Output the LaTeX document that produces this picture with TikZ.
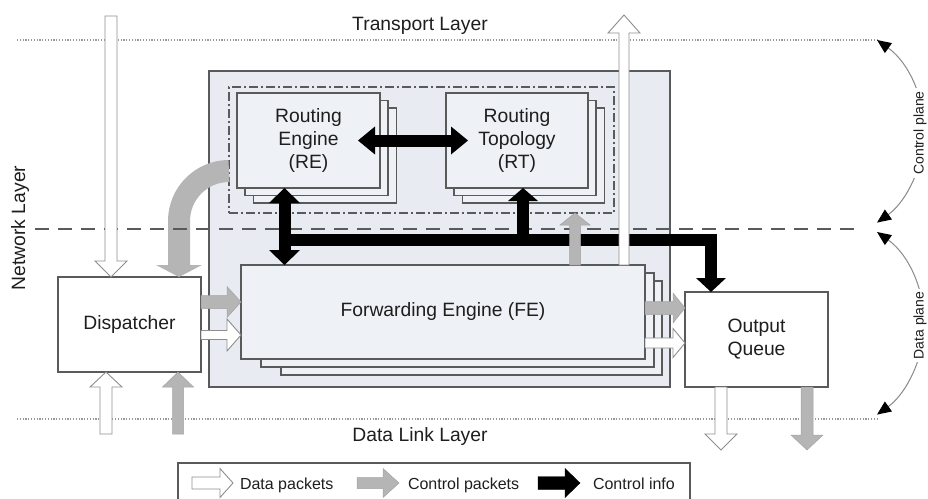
\documentclass[tikz,border=0pt]{standalone}
\usepackage{fontspec}
\setmainfont{Liberation Sans}
\usetikzlibrary{calc,arrows.meta}

\definecolor{panel}{HTML}{E8EBF1}
\definecolor{boxfill}{HTML}{EEF1F5}
\definecolor{edge}{HTML}{5A5A5A}
\definecolor{pktgray}{HTML}{B5B5B5}
\definecolor{outline}{HTML}{8E8E8E}
\definecolor{ink}{HTML}{1E1E1E}
\definecolor{guide}{HTML}{9A9A9A}
\definecolor{bend}{HTML}{8A8A8A}

% block arrow: #1 style, #2 tail, #3 tip, #4 shaft half-width, #5 head half-width, #6 head length
\newcommand\blockarrow[6]{%
  \coordinate (ba-s) at (#2);
  \coordinate (ba-t) at (#3);
  \coordinate (ba-c) at ($(ba-t)!#6!(ba-s)$);
  \draw[#1] ($(ba-s)!#4!90:(ba-t)$) -- ($(ba-c)!#4!90:(ba-t)$) -- ($(ba-c)!#5!90:(ba-t)$)
    -- (ba-t) -- ($(ba-c)!#5!-90:(ba-t)$) -- ($(ba-c)!#4!-90:(ba-t)$) -- ($(ba-s)!#4!-90:(ba-t)$) -- cycle;
}
% filled triangular head: #1 style, #2 point behind the tip, #3 tip, #4 half-width, #5 length
\newcommand\headtri[5]{%
  \coordinate (ht-t) at (#3);
  \coordinate (ht-c) at ($(ht-t)!#5!(#2)$);
  \fill[#1] ($(ht-c)!#4!90:(ht-t)$) -- (ht-t) -- ($(ht-c)!#4!-90:(ht-t)$) -- cycle;
}

\begin{document}
\begin{tikzpicture}[x=1pt,y=-1pt,
  every node/.style={inner sep=0pt, outer sep=0pt, text=ink},
  lbl/.style={font=\fontsize{19.3}{23}\selectfont, align=center},
  unitbox/.style={draw=edge, line width=1.3pt},
  datapkt/.style={fill=white, draw=outline, line width=0.9pt},
  ctrlpkt/.style={fill=pktgray, draw=pktgray!90!black, line width=0.5pt},
  infoline/.style={line width=12pt, draw=black},
  guideline/.style={draw=guide, line width=1.2pt, dash pattern=on 1.2pt off 1.6pt},
  layerline/.style={draw=edge, line width=1.4pt, dash pattern=on 14pt off 9pt},
  sidelbl/.style={font=\fontsize{14}{16}\selectfont, rotate=90, anchor=base, fill=white, inner xsep=3pt},
  planearc/.style={draw=bend, line width=1pt,
    {Triangle[length=14pt,width=12pt,color=black]}-{Triangle[length=14pt,width=12pt,color=black]}},
]
\useasboundingbox (0,0) rectangle (928,498);

% layer boundaries
\draw[guideline] (17,40) -- (877,40);
\draw[guideline] (17,419) -- (877,419);

% processing element
\draw[draw=edge, fill=panel, line width=1.2pt] (209,71) rectangle (670,387);
\node[draw=edge, line width=1.2pt, dash pattern=on 9pt off 3pt on 2pt off 3pt,
      minimum width=385pt, minimum height=126pt] (dd) at (421.5,150) {};

% routing engine and routing topology stacks
\foreach \dx/\dy in {16.5/15,8/7.5} {
  \draw[unitbox, fill=boxfill] (237+\dx,93+\dy) rectangle ++(143,95);
  \draw[unitbox, fill=boxfill] (446+\dx,93+\dy) rectangle ++(142,95);
}
\node[unitbox, fill=boxfill, minimum width=143pt, minimum height=95pt, lbl] (re) at (308.5,140.5) {Routing\\Engine\\(RE)};
\node[unitbox, fill=boxfill, minimum width=142pt, minimum height=95pt, lbl] (rt) at (517,140.5) {Routing\\Topology\\(RT)};

% forwarding engine stack
\draw[unitbox, fill=boxfill] (281,281) rectangle (662,375);
\draw[unitbox, fill=boxfill] (261,273) rectangle (654,367);
\node[unitbox, fill=boxfill, minimum width=404pt, minimum height=94pt, lbl] (fe) at (443,312) {Forwarding Engine (FE)};

% dispatcher and output queue
\node[unitbox, fill=white, minimum width=143pt, minimum height=95pt, lbl] (disp) at (129.5,324.5) {Dispatcher};
\node[unitbox, fill=white, minimum width=143pt, minimum height=95pt, lbl] (oq) at (756.5,339.5) {Output\\Queue};

% anchor rows and columns for the connectors
\coordinate (inTop) at (111,16);
\coordinate (inBotD) at (106,434);
\coordinate (inBotC) at (178,434);
\coordinate (curveY) at (0,171);
\coordinate (curveX) at (179,0);
\coordinate (rowC) at (0,302);
\coordinate (rowD) at (0,335);
\coordinate (rowC2) at (0,308);
\coordinate (rowD2) at (0,343);
\coordinate (outTop) at (624,15);
\coordinate (colC) at (575,0);
\coordinate (outD) at (721,450);
\coordinate (outC) at (807,450);
\coordinate (busL) at (284.5,240);
\coordinate (busR) at (711,240);
\coordinate (busT) at (523,240);

% control packets handed from the routing engine to the dispatcher
\draw[pktgray, line width=22pt] (dd.west |- curveY) .. controls (201.4,171) and (179,193.4) .. (179,221) -- (179,266);
\headtri{pktgray}{179,250}{disp.north -| curveX}{23pt}{12pt}

% network / transport boundary
\draw[layerline] (35,229) -- (860,229);

% control info
\draw[infoline] ($(re.east)+(-5,0)$) -- ($(rt.west)+(5,0)$);
\headtri{black}{rt.west}{$(re.east)+(-22,0)$}{14pt}{17pt}
\headtri{black}{re.east}{$(rt.west)+(22,0)$}{14pt}{17pt}
\draw[infoline] ($(re.south -| busL)+(0,14)$) -- ($(fe.north -| busL)+(0,-14)$);
\headtri{black}{busL}{re.south -| busL}{15.5pt}{15pt}
\headtri{black}{busL}{fe.north -| busL}{15.5pt}{15pt}
\draw[infoline, line join=miter] (busL) -- (busR) -- ($(oq.north -| busR)+(0,-13)$);
\headtri{black}{busR}{oq.north -| busR}{15pt}{14pt}
\draw[infoline] (busT) -- ($(rt.south -| busT)+(0,11)$);
\headtri{black}{busT}{rt.south -| busT}{15pt}{13pt}

% packets into the dispatcher
\blockarrow{datapkt}{inTop}{disp.north -| inTop}{6pt}{16pt}{16pt}
\blockarrow{datapkt}{inBotD}{disp.south -| inBotD}{6pt}{16pt}{15pt}
\blockarrow{ctrlpkt}{inBotC}{disp.south -| inBotC}{5.5pt}{15.5pt}{15pt}

% dispatcher to forwarding engine
\blockarrow{ctrlpkt}{disp.east |- rowC}{fe.west |- rowC}{6.5pt}{15.5pt}{14pt}
\blockarrow{datapkt}{disp.east |- rowD}{fe.west |- rowD}{4.5pt}{16pt}{14pt}

% forwarding engine outputs
\blockarrow{ctrlpkt}{fe.north -| colC}{dd.south -| colC}{5.5pt}{15pt}{12pt}
\blockarrow{datapkt}{fe.north -| outTop}{outTop}{5pt}{16pt}{18pt}
\blockarrow{ctrlpkt}{fe.east |- rowC2}{oq.west |- rowC2}{6.5pt}{15pt}{12pt}
\blockarrow{datapkt}{fe.east |- rowD2}{oq.west |- rowD2}{5pt}{14.5pt}{12pt}

% output queue to the data link layer
\blockarrow{datapkt}{oq.south -| outD}{outD}{6pt}{16pt}{16pt}
\blockarrow{ctrlpkt}{oq.south -| outC}{outC}{6pt}{16pt}{15pt}

% planes
\draw[planearc] (877,40) arc[start angle=-54.6, end angle=54.6, radius=112];
\draw[planearc] (877,232) arc[start angle=-54.6, end angle=54.6, radius=112];
\node[sidelbl] (cplane) at (923.5,133) {Control plane};
\node[sidelbl] (dplane) at (923.5,325.5) {Data plane};

% layer names
\node[lbl, anchor=base] (tl) at (420,30) {Transport Layer};
\node[lbl, anchor=base] (dl) at (420,441) {Data Link Layer};
\node[lbl, anchor=base, rotate=90] (nl) at (25,228) {Network Layer};

% legend
\draw[draw=edge, line width=1.2pt] (178,463) rectangle (690,520);
\coordinate (lgA) at (192,483);
\coordinate (lgB) at (233,483);
\coordinate (lgC) at (357,483);
\coordinate (lgD) at (399,483);
\coordinate (lgE) at (538,483);
\coordinate (lgF) at (580,483);
\blockarrow{datapkt}{lgA}{lgB}{6pt}{14.5pt}{13pt}
\blockarrow{ctrlpkt}{lgC}{lgD}{5.5pt}{14.5pt}{16pt}
\blockarrow{fill=black}{lgE}{lgF}{6.5pt}{14.5pt}{15pt}
\node[font=\fontsize{16}{19}\selectfont, anchor=base west] (lg1) at (240,489) {Data packets};
\node[font=\fontsize{16}{19}\selectfont, anchor=base west] (lg2) at (408,489) {Control packets};
\node[font=\fontsize{16}{19}\selectfont, anchor=base west] (lg3) at (593,489) {Control info};
\end{tikzpicture}
\end{document}
